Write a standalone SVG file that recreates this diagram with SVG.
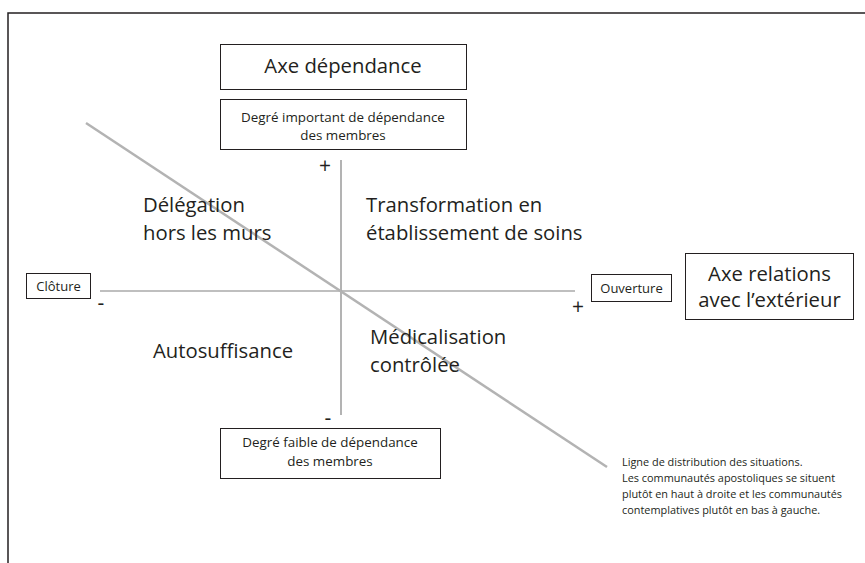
<svg xmlns="http://www.w3.org/2000/svg" width="865" height="563" viewBox="0 0 865 563">
<style>
text{font-family:"Open Sans","Noto Sans","Liberation Sans",sans-serif;fill:#231f20}
.box{fill:#fff;stroke:#231f20;stroke-width:1}
.axis{stroke:#808080;stroke-width:1.2;fill:none}
.big{font-size:20.3px}
.mid{font-size:13.4px}
.lbl{font-size:13px}
.small{font-size:10.9px}
.sign{font-size:21px}
.c{text-anchor:middle}
</style>
<rect width="865" height="563" fill="#fff"/>
<path d="M8 563V13H865" fill="none" stroke="#231f20" stroke-width="1.5"/>
<g id="connectors">
<line class="axis" x1="341" y1="160" x2="341" y2="415"/>
<line class="axis" x1="100" y1="291" x2="575" y2="291"/>
<line x1="86" y1="123" x2="607" y2="467" stroke="#b3b3b3" stroke-width="2.5"/>
</g>
<g id="axe-dependance">
<rect class="box" x="220.5" y="44.5" width="246" height="45"/>
<text class="big c" x="343" y="73">Axe dépendance</text>
</g>
<g id="degre-important">
<rect class="box" x="220.5" y="99.5" width="246" height="50"/>
<text class="mid c" x="343" y="122">Degré important de dépendance</text>
<text class="mid c" x="343" y="140">des membres</text>
</g>
<g id="plus-top"><text class="sign c" x="325" y="173">+</text></g>
<g id="minus-bottom"><text class="sign c" x="328" y="425">-</text></g>
<g id="minus-left"><text class="sign c" x="101" y="310">-</text></g>
<g id="plus-right"><text class="sign c" x="578" y="314">+</text></g>
<g id="cloture">
<rect class="box" x="26.5" y="273.5" width="64" height="25"/>
<text class="lbl c" x="58.5" y="291">Clôture</text>
</g>
<g id="ouverture">
<rect class="box" x="591.5" y="274.5" width="80" height="27"/>
<text class="lbl c" x="631.5" y="293">Ouverture</text>
</g>
<g id="axe-relations">
<rect class="box" x="685.5" y="253.5" width="168" height="66"/>
<text class="big c" x="769.5" y="281">Axe relations</text>
<text class="big c" x="769.5" y="307">avec l’extérieur</text>
</g>
<g id="delegation">
<text class="big" x="143" y="212">Délégation</text>
<text class="big" x="143" y="240">hors les murs</text>
</g>
<g id="transformation">
<text class="big" x="366" y="212">Transformation en</text>
<text class="big" x="366" y="240">établissement de soins</text>
</g>
<g id="autosuffisance">
<text class="big" x="153" y="358">Autosuffisance</text>
</g>
<g id="medicalisation">
<text class="big" x="370" y="344">Médicalisation</text>
<text class="big" x="370" y="372">contrôlée</text>
</g>
<g id="degre-faible">
<rect class="box" x="220.5" y="428.5" width="220" height="50"/>
<text class="mid c" x="330" y="447">Degré faible de dépendance</text>
<text class="mid c" x="330" y="466">des membres</text>
</g>
<g id="note">
<text class="small" x="622" y="466">Ligne de distribution des situations.</text>
<text class="small" x="622" y="482">Les communautés apostoliques se situent</text>
<text class="small" x="622" y="498">plutôt en haut à droite et les communautés</text>
<text class="small" x="622" y="514">contemplatives plutôt en bas à gauche.</text>
</g>
</svg>
